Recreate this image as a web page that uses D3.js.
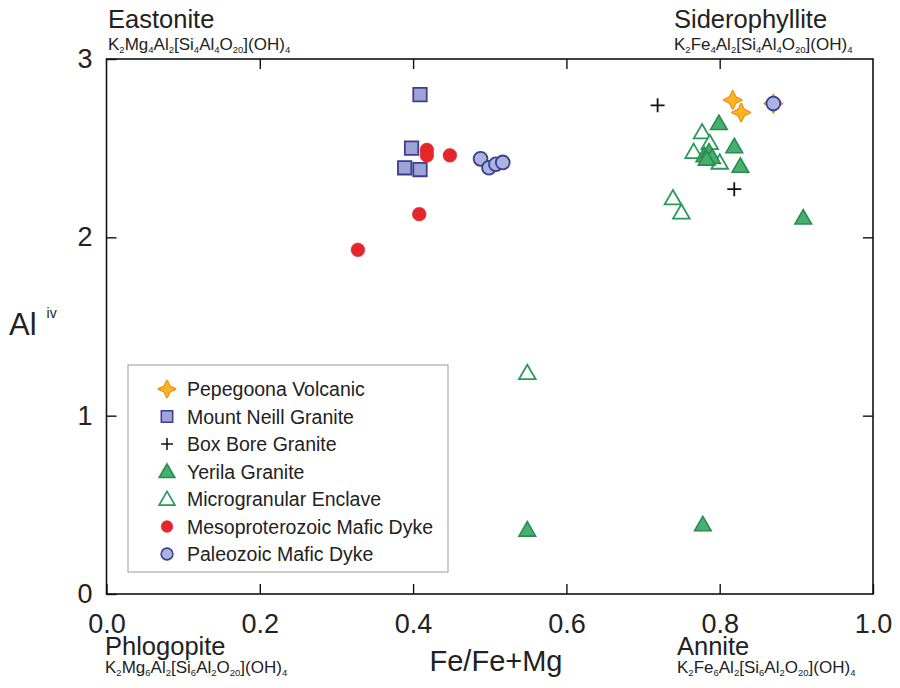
<!DOCTYPE html>
<html>
<head>
<meta charset="utf-8">
<script src="https://cdn.jsdelivr.net/npm/d3@7"></script>
<style>
  html, body { margin: 0; padding: 0; background: #fff; }
  svg { display: block; font-family: "Liberation Sans", Arial, sans-serif; }
</style>
</head>
<body>
<svg id="chart" width="900" height="688"></svg>
<script>
// Biotite composition: Fe/(Fe+Mg) vs tetrahedral Al
const xTicks = [0.0, 0.2, 0.4, 0.6, 0.8, 1.0];
const yTicks = [0, 1, 2, 3];

const pepegoona = [[0.817, 2.77], [0.828, 2.70], [0.870, 2.75]];
const mountNeill = [[0.409, 2.80], [0.398, 2.50], [0.389, 2.39], [0.409, 2.38]];
const boxBore = [[0.719, 2.74], [0.819, 2.27]];
const yerila = [[0.799, 2.64], [0.819, 2.51], [0.827, 2.40], [0.780, 2.46], [0.786, 2.48],
                [0.790, 2.45], [0.783, 2.44], [0.909, 2.11], [0.549, 0.36], [0.778, 0.39]];
const enclave = [[0.777, 2.59], [0.766, 2.48], [0.787, 2.53], [0.800, 2.42], [0.739, 2.22],
                 [0.750, 2.14], [0.549, 1.24]];
const mesoDyke = [[0.418, 2.49], [0.418, 2.46], [0.448, 2.46], [0.408, 2.13], [0.328, 1.93]];
const paleoDyke = [[0.488, 2.44], [0.499, 2.39], [0.508, 2.41], [0.517, 2.42], [0.870, 2.75]];

const legendLabels = ["Pepegoona Volcanic", "Mount Neill Granite", "Box Bore Granite", "Yerila Granite",
                      "Microgranular Enclave", "Mesoproterozoic Mafic Dyke", "Paleozoic Mafic Dyke"];

const svg = d3.select("#chart");
const L = 106.5, R = 873, T = 59, B = 594;
const x = d3.scaleLinear().domain([0, 1]).range([L, R]);
const y = d3.scaleLinear().domain([0, 3]).range([B, T]);

// frame
svg.append("rect").attr("x", L).attr("y", T).attr("width", R - L).attr("height", B - T)
  .attr("fill", "none").attr("stroke", "#111").attr("stroke-width", 1.6);

// inward ticks on all four sides
const tickLen = 10;
const xAxisB = d3.axisBottom(x).tickValues(xTicks).tickSizeInner(-tickLen).tickSizeOuter(0).tickFormat(d3.format(".1f")).tickPadding(20);
const xAxisT = d3.axisTop(x).tickValues(xTicks.slice(1, -1)).tickSizeInner(-tickLen).tickSizeOuter(0).tickFormat("");
const yAxisL = d3.axisLeft(y).tickValues(yTicks).tickSizeInner(-tickLen).tickSizeOuter(0).tickFormat(d3.format("d")).tickPadding(14);
const yAxisR = d3.axisRight(y).tickValues(yTicks.slice(1, -1)).tickSizeInner(-tickLen).tickSizeOuter(0).tickFormat("");

function styleAxis(g) {
  g.select(".domain").remove();
  g.selectAll(".tick line").attr("stroke", "#111").attr("stroke-width", 1.4);
  g.selectAll(".tick text").attr("fill", "#222").style("font-size", "27px")
    .style("font-family", "'Liberation Sans', Arial, sans-serif");
}
svg.append("g").attr("transform", `translate(0,${B})`).call(xAxisB).call(styleAxis);
svg.append("g").attr("transform", `translate(0,${T})`).call(xAxisT).call(styleAxis);
svg.append("g").attr("transform", `translate(${L},0)`).call(yAxisL).call(styleAxis);
svg.append("g").attr("transform", `translate(${R},0)`).call(yAxisR).call(styleAxis);

// axis titles
svg.append("text").attr("x", 496).attr("y", 671).attr("text-anchor", "middle")
  .style("font-size", "29px").attr("fill", "#222").text("Fe/Fe+Mg");
const yl = svg.append("text").attr("x", 9).attr("y", 335).attr("fill", "#222").style("font-size", "31px");
yl.append("tspan").text("Al");
yl.append("tspan").attr("dx", 10).attr("dy", -17).style("font-size", "14px").text("iv");

// end-member labels with subscripted formulas
function endMember(xp, yName, yForm, name, parts) {
  svg.append("text").attr("x", xp).attr("y", yName).attr("fill", "#222")
    .style("font-size", "25.5px").text(name);
  const t = svg.append("text").attr("x", xp).attr("y", yForm).attr("fill", "#222").style("font-size", "17px");
  let prevSub = false;
  parts.forEach(p => {
    const sp = t.append("tspan").text(p.s);
    if (p.sub) {
      sp.attr("dy", 3).style("font-size", "9.5px");
    } else if (prevSub) {
      sp.attr("dy", -3);
    }
    prevSub = p.sub;
  });
}
const fm = (...a) => a.map((s, i) => ({ s, sub: i % 2 === 1 }));
endMember(108, 28, 50, "Eastonite", fm("K", "2", "Mg", "4", "Al", "2", "[Si", "4", "Al", "4", "O", "20", "](OH)", "4"));
endMember(674, 28, 50, "Siderophyllite", fm("K", "2", "Fe", "4", "Al", "2", "[Si", "4", "Al", "4", "O", "20", "](OH)", "4"));
endMember(105, 655, 673, "Phlogopite", fm("K", "2", "Mg", "6", "Al", "2", "[Si", "6", "Al", "2", "O", "20", "](OH)", "4"));
endMember(677, 655, 673, "Annite", fm("K", "2", "Fe", "6", "Al", "2", "[Si", "6", "Al", "2", "O", "20", "](OH)", "4"));

// marker styles
const starPath = (() => {
  const pts = [];
  for (let i = 0; i < 8; i++) pts.push([i * Math.PI / 4, i % 2 === 0 ? 9.5 : 4.6]);
  return d3.lineRadial().curve(d3.curveCatmullRomClosed.alpha(0.5))(pts);
})();
const tri = d3.symbol().type(d3.symbolTriangle).size(120)();
const sq = d3.symbol().type(d3.symbolSquare).size(180)();
const circ = d3.symbol().type(d3.symbolCircle).size(150)();
const plus = "M-7,0H7M0,-7V7";

const styles = [
  { data: pepegoona, d: starPath, fill: "#fbb523", stroke: "#ef8a10", sw: 1.2, dy: 0 },
  { data: mountNeill, d: sq, fill: "#9ea4d8", stroke: "#3c3f8e", sw: 1.8, dy: 0 },
  { data: boxBore, d: plus, fill: "none", stroke: "#111", sw: 1.8, dy: 0 },
  { data: yerila, d: tri, fill: "#45b06f", stroke: "#2a8c50", sw: 1.6, dy: 1.5 },
  { data: enclave, d: tri, fill: "#fff", stroke: "#2a9a58", sw: 1.8, dy: 1.5 },
  { data: mesoDyke, d: circ, fill: "#e5262b", stroke: "#e5262b", sw: 0.5, dy: 0 },
  { data: paleoDyke, d: circ, fill: "#abb3e2", stroke: "#3b3f8a", sw: 1.8, dy: 0 }
];

// enclave (open) drawn beneath the filled Yerila points
const order = [0, 1, 2, 4, 3, 5, 6];
order.forEach(i => {
  const s = styles[i];
  svg.append("g").selectAll("path").data(s.data).join("path")
    .attr("d", s.d)
    .attr("transform", d => `translate(${x(d[0])},${y(d[1]) + s.dy})`)
    .attr("fill", s.fill).attr("stroke", s.stroke).attr("stroke-width", s.sw);
});

// legend
const lg = svg.append("g");
lg.append("rect").attr("x", 128).attr("y", 365).attr("width", 320).attr("height", 207)
  .attr("fill", "#fff").attr("stroke", "#aaa").attr("stroke-width", 1.2);
legendLabels.forEach((lab, i) => {
  const s = styles[i];
  const yy = 389 + i * 27.5;
  const scale = (i === 0) ? 0.95 : (i === 3 || i === 4) ? 0.95 : 0.85;
  lg.append("path").attr("d", s.d)
    .attr("transform", `translate(167,${yy + s.dy}) scale(${scale})`)
    .attr("fill", s.fill).attr("stroke", s.stroke).attr("stroke-width", s.sw);
  lg.append("text").attr("x", 187).attr("y", yy + 7).attr("fill", "#222")
    .style("font-size", "19.5px").text(lab);
});
</script>
</body>
</html>
